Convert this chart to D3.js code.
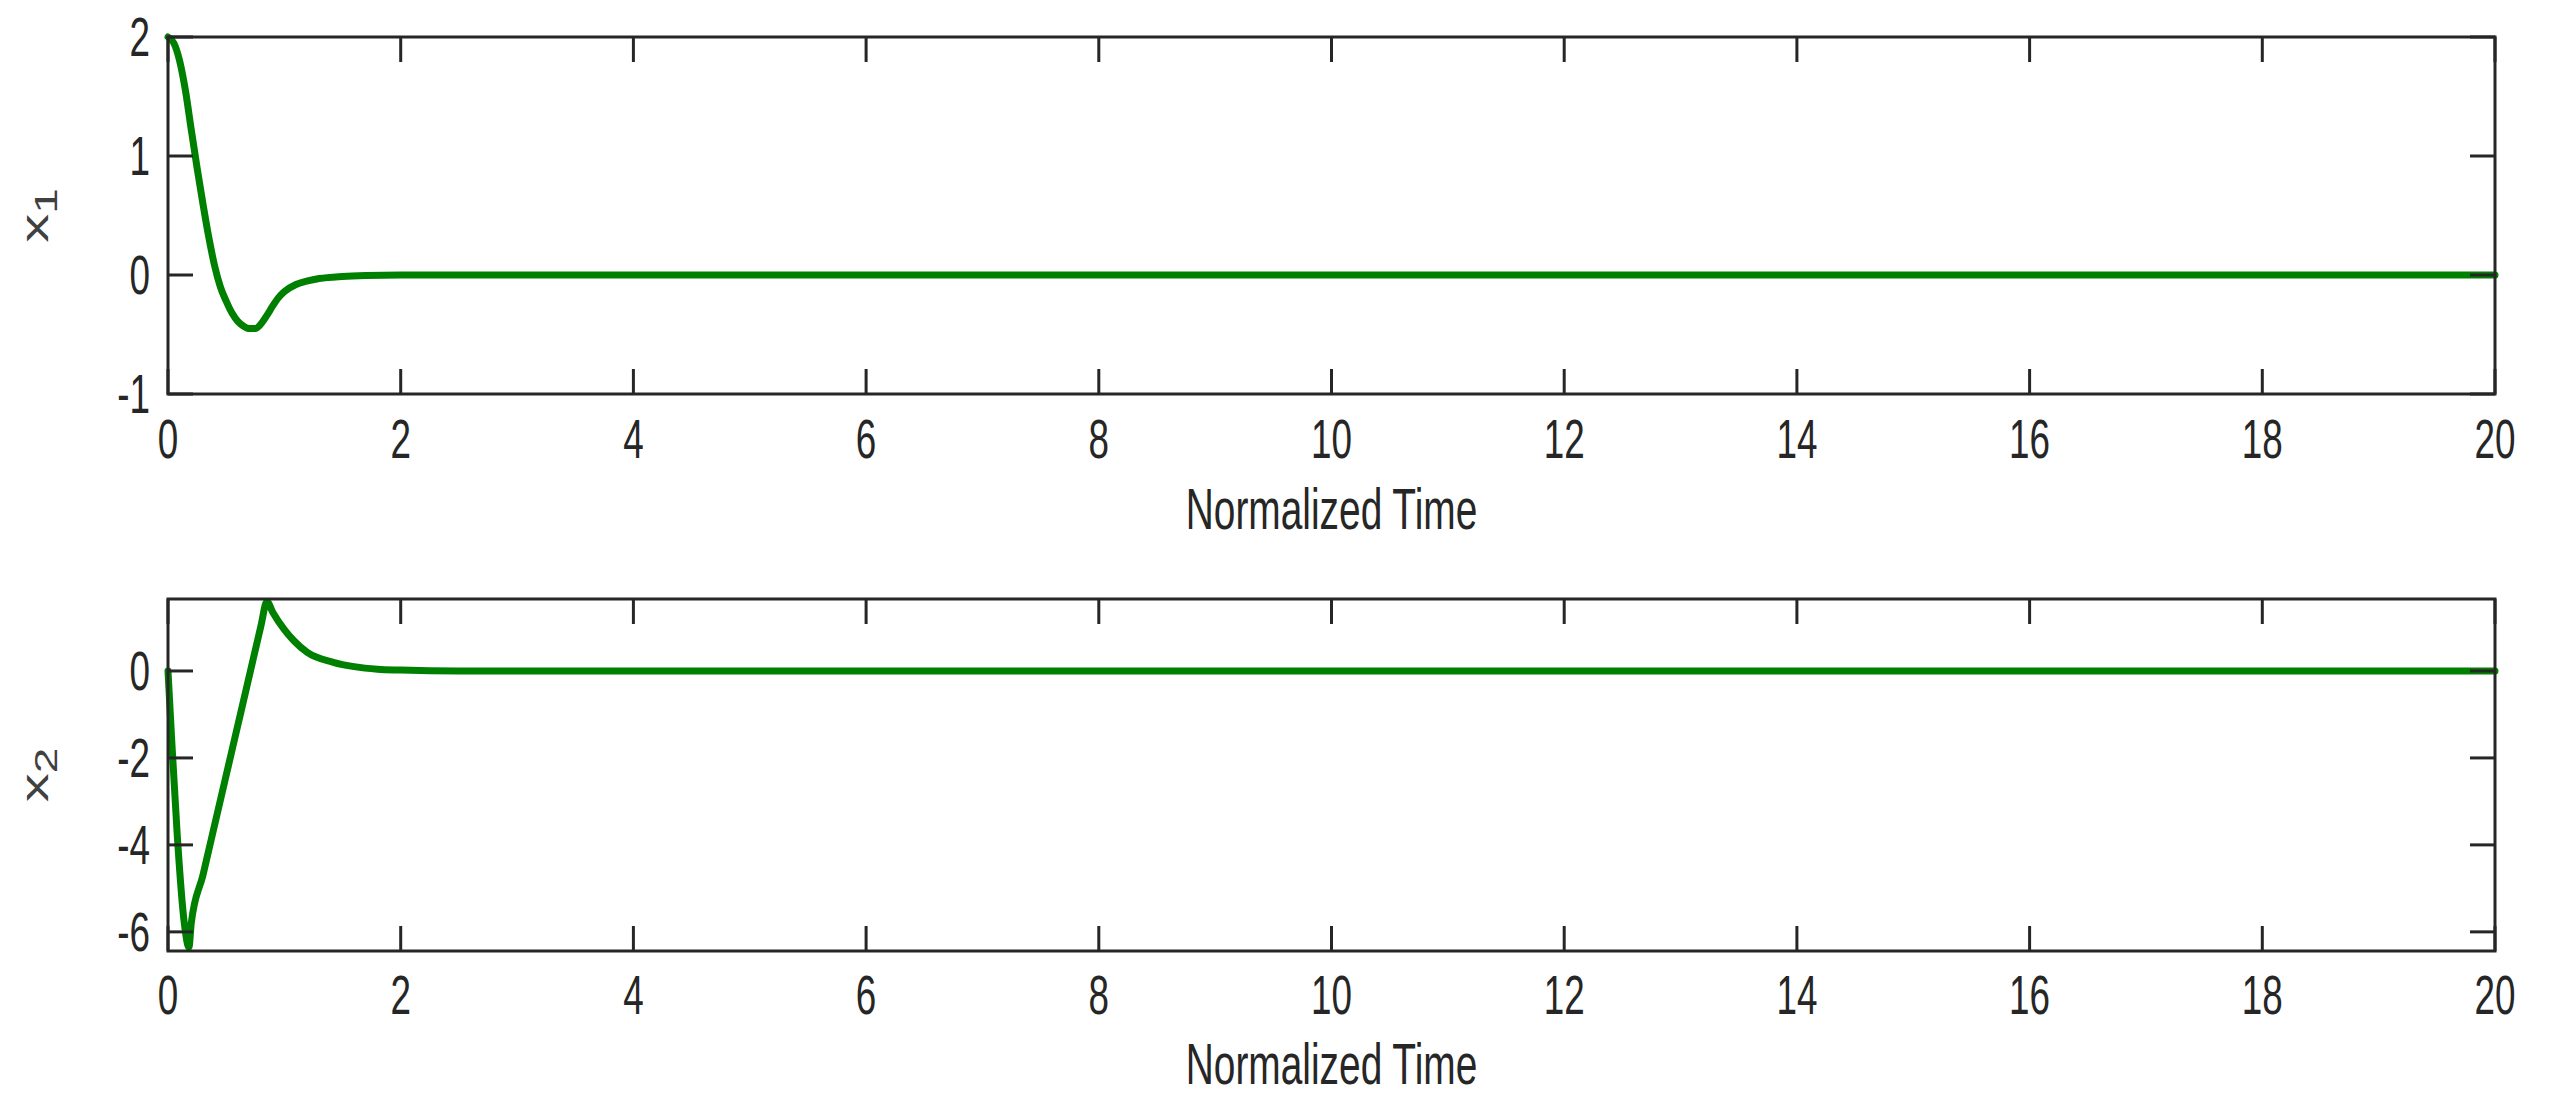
<!DOCTYPE html>
<html><head><meta charset="utf-8">
<script src="https://cdn.jsdelivr.net/npm/d3@7"></script>
<style>body{margin:0;background:#fff}</style></head>
<body><svg id="c" width="2553" height="1106"></svg>
<script>
const xTicks = [0,2,4,6,8,10,12,14,16,18,20];
const x1Ticks = [-1,0,1,2];
const x2Ticks = [-6,-4,-2,0];
const x1T = [0,0.05,0.1,0.15,0.2,0.25,0.3,0.35,0.4,0.45,0.5,0.55,0.6,0.65,0.7,0.75,0.8,0.85,0.9,0.95,1.0,1.1,1.2,1.3,1.5,1.7,2,20];
const x1V = [2,1.95,1.8,1.55,1.22,0.9,0.6,0.32,0.08,-0.1,-0.22,-0.32,-0.39,-0.43,-0.45,-0.45,-0.41,-0.34,-0.26,-0.19,-0.14,-0.08,-0.05,-0.03,-0.012,-0.004,0,0];
const x2T = [0,0.03,0.08,0.14,0.18,0.2,0.3,0.4,0.5,0.6,0.7,0.8,0.85,0.9,1.0,1.08,1.2,1.42,1.6,1.8,2.0,2.5,20];
const x2V = [0,-1.5,-3.8,-5.8,-6.35,-5.8,-4.7,-3.55,-2.4,-1.25,-0.1,1.05,1.6,1.35,0.95,0.7,0.42,0.2,0.1,0.04,0.02,0,0];

const svg = d3.select('#c');
const X0=168, X1=2495;
const panels = [
  {top:37,bottom:394,dom:[-1,2],ticks:x1Ticks,t:x1T,v:x1V,sub:'1',tickY:439,titleY:508},
  {top:599,bottom:951,dom:[-6.44,1.655],ticks:x2Ticks,t:x2T,v:x2V,sub:'2',tickY:995,titleY:1063}
];
const ink='#262626';
const SX=0.67;
function txt(g,x,y,s,anchor,size,fill){
  return g.append('text').attr('transform',`translate(${x},${y}) scale(${SX},1)`)
   .attr('text-anchor',anchor).attr('dominant-baseline','central')
   .attr('font-family','Liberation Sans, Arial, sans-serif').attr('font-size',size).attr('fill',fill||ink).text(s);
}
panels.forEach(p=>{
  const x=d3.scaleLinear().domain([0,20]).range([X0,X1]);
  const y=d3.scaleLinear().domain(p.dom).range([p.bottom,p.top]);
  const g=svg.append('g');
  const data=p.t.map((t,i)=>[t,p.v[i]]);
  g.append('path').datum(data).attr('fill','none').attr('stroke','#008000').attr('stroke-width',7)
   .attr('stroke-linejoin','round').attr('stroke-linecap','round')
   .attr('d',d3.line().x(d=>x(d[0])).y(d=>y(d[1])).curve(d3.curveMonotoneX));
  g.append('rect').attr('x',X0).attr('y',p.top).attr('width',X1-X0).attr('height',p.bottom-p.top)
   .attr('fill','none').attr('stroke',ink).attr('stroke-width',3);
  const L=25;
  xTicks.forEach(t=>{
    g.append('line').attr('x1',x(t)).attr('x2',x(t)).attr('y1',p.bottom).attr('y2',p.bottom-L).attr('stroke',ink).attr('stroke-width',3);
    g.append('line').attr('x1',x(t)).attr('x2',x(t)).attr('y1',p.top).attr('y2',p.top+L).attr('stroke',ink).attr('stroke-width',3);
    txt(g,x(t),p.tickY,String(t),'middle',55);
  });
  p.ticks.forEach(t=>{
    g.append('line').attr('x1',X0).attr('x2',X0+L).attr('y1',y(t)).attr('y2',y(t)).attr('stroke',ink).attr('stroke-width',3);
    g.append('line').attr('x1',X1).attr('x2',X1-L).attr('y1',y(t)).attr('y2',y(t)).attr('stroke',ink).attr('stroke-width',3);
    txt(g,150,y(t),t<0?'-'+Math.abs(t):String(t),'end',55);
  });
  txt(g,(X0+X1)/2,p.titleY,'Normalized Time','middle',58);
  const cy=(p.top+p.bottom)/2;
  const lab=g.append('text').attr('transform',`translate(48,${cy}) rotate(-90) scale(1,${SX})`)
   .attr('text-anchor','middle').attr('font-family','Liberation Sans, Arial, sans-serif')
   .attr('font-size',58).attr('fill','#404040');
  lab.append('tspan').text('x');
  lab.append('tspan').attr('dy',14).attr('font-size',46).text(p.sub);
});
</script></body></html>
